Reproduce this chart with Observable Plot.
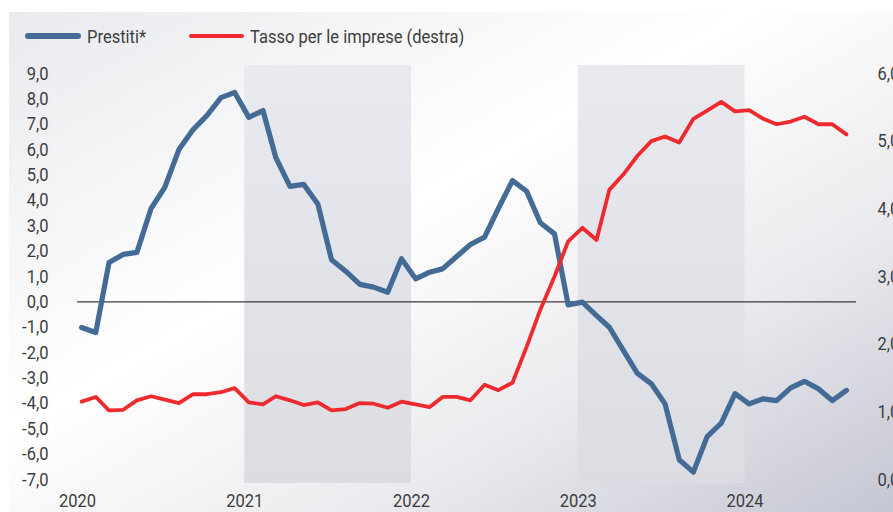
<!DOCTYPE html>
<html>
<head>
<meta charset="utf-8">
<script src="https://cdn.jsdelivr.net/npm/d3@7"></script>
<script src="https://cdn.jsdelivr.net/npm/@observablehq/plot@0.6"></script>
<style>
  html, body { margin: 0; padding: 0; }
  body { width: 893px; height: 512px; overflow: hidden; background: #ffffff; position: relative; font-family: Roboto, "Noto Sans", sans-serif; }
  #bg { position: absolute; left: 9px; top: 12px; width: 884px; height: 500px;
        background: linear-gradient(to bottom right, #e9eaee 0%, #ffffff 42%, #ebebef 70%, #c4c6d2 100%); }
  #legend { position: relative; height: 50px; width: 893px; }
  .sw { position: absolute; }
  .lt { position: absolute; font-size: 19px; color: #3d3d3d; white-space: nowrap; transform: scaleX(0.87); transform-origin: left center; line-height: 1; }
  #chart { position: relative; }
</style>
</head>
<body>
<div id="bg"></div>
<div id="legend">
  <div class="sw" style="left:25px; top:33px; width:56px; height:6px; border-radius:3px; background:#436b95;"></div>
  <div class="lt" style="left:87px; top:27px;">Prestiti*</div>
  <div class="sw" style="left:189px; top:34px; width:55px; height:4px; border-radius:2px; background:#ee2a2e;"></div>
  <div class="lt" style="left:250px; top:27px;">Tasso per le imprese (destra)</div>
</div>
<div id="chart"></div>
<script>
// ---- data ----
const startYear = 2020;
const prestiti = [
  -1.01, -1.21, 1.55, 1.87, 1.95, 3.68, 4.51, 6.00, 6.79, 7.34, 8.05, 8.25,
  7.27, 7.54, 5.69, 4.55, 4.63, 3.86, 1.66, 1.21, 0.69, 0.58, 0.38, 1.70,
  0.91, 1.17, 1.30, 1.79, 2.26, 2.55, 3.67, 4.78, 4.36, 3.12, 2.68, -0.12,
  -0.01, -0.54, -1.00, -1.92, -2.81, -3.23, -4.02, -6.22, -6.71, -5.31, -4.78, -3.62,
  -4.02, -3.82, -3.89, -3.39, -3.13, -3.43, -3.89, -3.49
];
const tasso = [
  1.15, 1.22, 1.02, 1.03, 1.17, 1.23, 1.18, 1.13, 1.26, 1.26, 1.29, 1.35,
  1.14, 1.11, 1.23, 1.17, 1.10, 1.14, 1.02, 1.04, 1.13, 1.12, 1.06, 1.15,
  1.11, 1.07, 1.22, 1.22, 1.17, 1.40, 1.32, 1.43, 1.96, 2.51, 3.00, 3.52,
  3.72, 3.54, 4.28, 4.51, 4.78, 5.00, 5.07, 4.98, 5.33, 5.45, 5.58, 5.44,
  5.46, 5.33, 5.25, 5.29, 5.36, 5.25, 5.25, 5.10
];
const yearTicks = [2020, 2021, 2022, 2023, 2024];
const shadedYears = [2021, 2023];
const leftTicks = [9, 8, 7, 6, 5, 4, 3, 2, 1, 0, -1, -2, -3, -4, -5, -6, -7];
const rightTicks = [0, 1, 2, 3, 4, 5, 6];
const seriesNames = ["Prestiti*", "Tasso per le imprese (destra)"];

// ---- helpers ----
const monthDate = (i) => new Date(Date.UTC(startYear, i, 10));
const leftMin = -7, leftMax = 9, rightMin = 0, rightMax = 6;
const toLeft = (r) => leftMin + (r - rightMin) * (leftMax - leftMin) / (rightMax - rightMin);
const toRight = (l) => rightMin + (l - leftMin) * (rightMax - rightMin) / (leftMax - leftMin);
const fmt = (v) => (Math.round(v * 10) / 10).toFixed(1).replace(".", ",");

const blueData = prestiti.map((v, i) => ({date: monthDate(i), value: v}));
const redData = tasso.map((v, i) => ({date: monthDate(i), value: toLeft(v)}));
const bands = shadedYears.map((y) => ({x1: new Date(Date.UTC(y, 0, 1)), x2: new Date(Date.UTC(y + 1, 0, 1))}));

const yDomain = [-7.158, 9.315];

const chart = Plot.plot({
  width: 893,
  height: 462,
  marginTop: 15,
  marginBottom: 29,
  marginLeft: 77,
  marginRight: 37,
  style: {background: "transparent", fontFamily: "Roboto, sans-serif", fontSize: "19px", color: "#3d3d3d"},
  x: {type: "utc", domain: [new Date(Date.UTC(2020, 0, 1)), new Date(Date.UTC(2024, 8, 1))], label: null},
  y: {domain: yDomain, label: null},
  marks: [
    Plot.rect(bands, {x1: "x1", x2: "x2", y1: yDomain[0], y2: yDomain[1], fill: "url(#bandGrad)"}),
    Plot.ruleY([0], {stroke: "#3a3a3a", strokeWidth: 1.2}),
    Plot.axisX(yearTicks.map((y) => new Date(Date.UTC(y, 0, 1))), {tickSize: 0, tickPadding: 10, tickFormat: (d) => String(d.getUTCFullYear())}),
    Plot.axisY(leftTicks, {anchor: "left", tickSize: 0, tickPadding: 29, tickFormat: fmt}),
    Plot.axisY(rightTicks.map(toLeft), {anchor: "right", tickSize: 0, tickPadding: 21, tickFormat: (d) => fmt(toRight(d))}),
    Plot.line(blueData, {x: "date", y: "value", stroke: "#436b95", strokeWidth: 5.2, strokeLinejoin: "round", strokeLinecap: "round"}),
    Plot.line(redData, {x: "date", y: "value", stroke: "#ee2a2e", strokeWidth: 3.8, strokeLinejoin: "round", strokeLinecap: "round"})
  ]
});

// gradient for shaded bands
const ns = "http://www.w3.org/2000/svg";
const defs = document.createElementNS(ns, "defs");
const lg = document.createElementNS(ns, "linearGradient");
lg.setAttribute("id", "bandGrad");
lg.setAttribute("x1", "0"); lg.setAttribute("y1", "0"); lg.setAttribute("x2", "0"); lg.setAttribute("y2", "1");
[["0%", "#e9eaee"], ["100%", "#dcdde3"]].forEach(([o, c]) => {
  const s = document.createElementNS(ns, "stop");
  s.setAttribute("offset", o); s.setAttribute("stop-color", c);
  lg.appendChild(s);
});
defs.appendChild(lg);
chart.insertBefore(defs, chart.firstChild);

// condensed look for tick labels
chart.querySelectorAll("text").forEach((t) => {
  const tr = t.getAttribute("transform") || "";
  t.setAttribute("transform", tr + " scale(0.87,1)");
});

document.getElementById("chart").appendChild(chart);
</script>
</body>
</html>
